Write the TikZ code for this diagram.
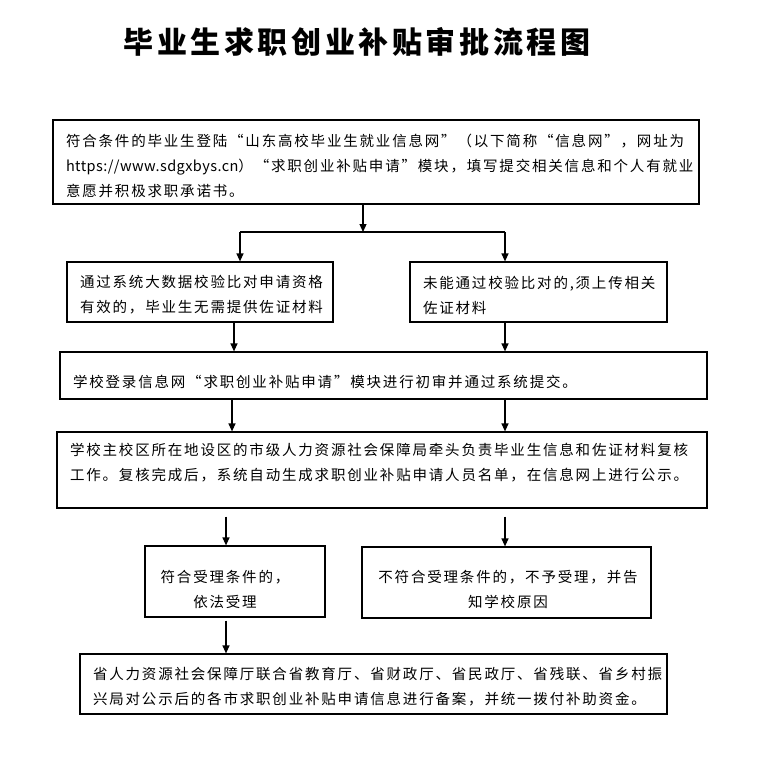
\documentclass[tikz,border=0pt]{standalone}
\usepackage{fontspec}
\usetikzlibrary{arrows.meta}
\newfontfamily\cjk{Noto Sans CJK SC}[LetterSpace=12.5]
\newfontfamily\cjkurl{Noto Sans CJK SC}[LetterSpace=3]
\newfontfamily\cjktitle{Noto Sans CJK SC}[LetterSpace=12]
\begin{document}
\begin{tikzpicture}[x=1pt,y=-1pt,
  box/.style={draw,line width=1.2pt,inner sep=0pt},
  txt/.style={inner sep=0pt,align=left,font=\cjk\fontsize{14.5}{25}\selectfont},
  ctxt/.style={txt,align=center},
  ln/.style={line width=1.2pt},
  arr/.style={ln,-{Triangle[length=8pt,width=7pt]}}]
\fill[white] (0,0) rectangle (770,762);
\useasboundingbox (0,0) rectangle (770,762);
\node[font=\cjktitle\bfseries\fontsize{30}{34}\selectfont] (title) at (357,42) {毕业生求职创业补贴审批流程图};
% boxes
\node[box,minimum width=646pt,minimum height=84pt] (b1) at (376,162) {};
\node[box,minimum width=266pt,minimum height=60pt] (b2a) at (200,292) {};
\node[box,minimum width=257pt,minimum height=60pt] (b2b) at (538.5,292) {};
\node[box,minimum width=647pt,minimum height=47pt] (b3) at (383.5,375.5) {};
\node[box,minimum width=650pt,minimum height=76pt] (b4) at (382,470) {};
\node[box,minimum width=180pt,minimum height=71pt] (b5a) at (235,581.5) {};
\node[box,minimum width=289pt,minimum height=71pt] (b5b) at (506.5,582.5) {};
\node[box,minimum width=587pt,minimum height=60pt] (b6) at (373.5,684) {};
% texts
\node[txt,text width=620pt] (t1) at (376,165.5)
 {符合条件的毕业生登陆“山东高校毕业生就业信息网”（以下简称“信息网”，网址为\\{\cjkurl https://www.sdgxbys.cn}）“求职创业补贴申请”模块，填写提交相关信息和个人有就业\\意愿并积极求职承诺书。};
\node[txt,text width=240pt] (t2a) at (200,295)
 {通过系统大数据校验比对申请资格\\有效的，毕业生无需提供佐证材料};
\node[txt,text width=231pt] (t2b) at (538.5,295)
 {未能通过校验比对的,须上传相关\\佐证材料};
\node[txt,text width=621pt] (t3) at (383.5,382)
 {学校登录信息网“求职创业补贴申请”模块进行初审并通过系统提交。};
\node[txt,text width=624pt] (t4) at (382,463)
 {学校主校区所在地设区的市级人力资源社会保障局牵头负责毕业生信息和佐证材料复核\\工作。复核完成后，系统自动生成求职创业补贴申请人员名单，在信息网上进行公示。};
\node[ctxt] (t5a) at (225,589)
 {符合受理条件的，\\依法受理};
\node[ctxt] (t5b) at (508,589)
 {不符合受理条件的，不予受理，并告\\知学校原因};
\node[txt,text width=561pt] (t6) at (373.5,686.5)
 {省人力资源社会保障厅联合省教育厅、省财政厅、省民政厅、省残联、省乡村振\\兴局对公示后的各市求职创业补贴申请信息进行备案，并统一拨付补助资金。};
% connectors
\coordinate (jm) at (363,232);
\coordinate (jl) at (240,232);
\coordinate (jr) at (505,232);
\coordinate (xa) at (234,0);
\coordinate (xb) at (232,0);
\coordinate (xc) at (226,0);
\draw[arr] (b1.south -| jm) -- (jm);
\draw[ln] (jl) -- (jr);
\draw[arr] (jl) -- (jl |- b2a.north);
\draw[arr] (jr) -- (jr |- b2b.north);
\draw[arr] (b2a.south -| xa) -- (b3.north -| xa);
\draw[arr] (b2b.south -| jr) -- (b3.north -| jr);
\draw[arr] (b3.south -| xb) -- (b4.north -| xb);
\draw[arr] (b3.south -| jr) -- (b4.north -| jr);
\draw[arr] ([yshift=-8pt]b4.south -| xc) -- (b5a.north -| xc);
\draw[arr] ([yshift=-8pt]b4.south -| jr) -- (b5b.north -| jr);
\draw[arr] ([yshift=-3pt]b5a.south -| xc) -- (b6.north -| xc);
\end{tikzpicture}
\end{document}
